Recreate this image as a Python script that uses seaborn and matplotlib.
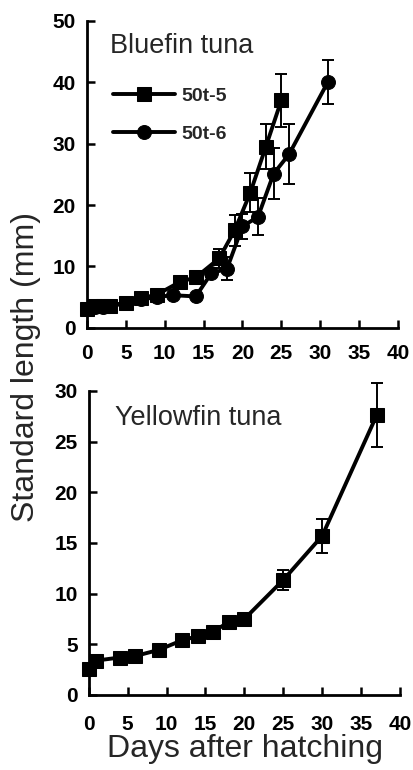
import numpy as np
import pandas as pd
import matplotlib
matplotlib.use("Agg")
import matplotlib.pyplot as plt
import seaborn as sns

# ---- data ----
bf5_days = [0, 1, 2, 3, 5, 7, 9, 12, 14, 17, 19, 21, 23, 25]
bf5_len = [3.0, 3.6, 3.6, 3.6, 4.1, 4.8, 5.4, 7.5, 8.2, 11.3, 15.9, 22.0, 29.5, 37.1]
bf5_sd = [0, 0, 0, 0, 0, 0, 0.3, 0.5, 0.6, 1.6, 2.5, 3.2, 3.7, 4.3]

bf6_days = [0, 1, 2, 3, 5, 7, 9, 11, 14, 16, 18, 20, 22, 24, 26, 31]
bf6_len = [3.1, 3.3, 3.4, 3.5, 4.0, 4.6, 5.0, 5.3, 5.1, 8.9, 9.6, 16.5, 18.1, 25.1, 28.3, 40.1]
bf6_sd = [0, 0, 0, 0, 0, 0, 0, 0, 0, 0.6, 1.9, 2.0, 3.0, 4.2, 4.9, 3.6]

yf_days = [0, 1, 4, 6, 9, 12, 14, 16, 18, 20, 25, 30, 37]
yf_len = [2.6, 3.4, 3.7, 3.85, 4.45, 5.4, 5.8, 6.25, 7.2, 7.5, 11.35, 15.7, 27.6]
yf_sd = [0, 0, 0, 0, 0, 0, 0, 0, 0.3, 0.5, 0.95, 1.65, 3.15]

series_names = ["50t-5", "50t-6"]
x_ticks = [0, 5, 10, 15, 20, 25, 30, 35, 40]
top_yticks = [0, 10, 20, 30, 40, 50]
bot_yticks = [0, 5, 10, 15, 20, 25, 30]

# ---- style ----
sns.set_theme(style="ticks")
plt.rcParams["font.family"] = ["Liberation Sans", "DejaVu Sans"]

W, H = 414, 770
fig = plt.figure(figsize=(W / 100, H / 100), dpi=100)

def fx(px):
    return px / W

def fy(py):
    return (H - py) / H

ax1 = fig.add_axes([fx(87), fy(327.7), (398 - 87) / W, (327.7 - 21) / H])
ax2 = fig.add_axes([fx(88.7), fy(695), (400 - 88.7) / W, (695 - 391) / H])

df_top = pd.concat([
    pd.DataFrame({"day": bf5_days, "length": bf5_len, "group": series_names[0]}),
    pd.DataFrame({"day": bf6_days, "length": bf6_len, "group": series_names[1]}),
])
df_bot = pd.DataFrame({"day": yf_days, "length": yf_len})

LW = 2.8
MS = 10

def draw_err(ax, d, v, e):
    d = np.array(d); v = np.array(v); e = np.array(e)
    m = e > 0
    ax.errorbar(d[m], v[m], yerr=e[m], fmt="none", ecolor="black",
                elinewidth=1.4, capsize=4, capthick=1.4, zorder=1, clip_on=False)

draw_err(ax1, bf5_days, bf5_len, bf5_sd)
draw_err(ax1, bf6_days, bf6_len, bf6_sd)
draw_err(ax2, yf_days, yf_len, yf_sd)

sns.lineplot(data=df_top, x="day", y="length", hue="group", style="group",
             markers={"50t-5": "s", "50t-6": "o"}, dashes=False,
             palette={"50t-5": "black", "50t-6": "black"},
             linewidth=LW, markersize=MS, markeredgecolor="black",
             ax=ax1, legend=True, zorder=3)
sns.lineplot(data=df_bot, x="day", y="length", marker="s", color="black",
             linewidth=LW, markersize=MS - 0.5, markeredgecolor="black",
             ax=ax2, zorder=3)

for ax in (ax1, ax2):
    for ln in ax.get_lines():
        ln.set_clip_on(False)

handles, labels = ax1.get_legend_handles_labels()
leg = ax1.legend(handles, labels, loc="upper left", bbox_to_anchor=(0.0836, 0.785),
                 frameon=False, borderpad=0, borderaxespad=0,
                 handlelength=3.2, handletextpad=0.3, labelspacing=1.05,
                 prop={"family": "Liberation Sans", "weight": "bold", "size": 14})

for ax, yt, pad_x in ((ax1, top_yticks, 11.5), (ax2, bot_yticks, 14.5)):
    ax.set_xlim(0, 40)
    ax.set_ylim(yt[0], yt[-1])
    ax.set_xticks(x_ticks)
    ax.set_yticks(yt)
    ax.set_xlabel("")
    ax.set_ylabel("")
    sns.despine(ax=ax)
    for s in ("left", "bottom"):
        ax.spines[s].set_linewidth(2.0)
        ax.spines[s].set_color("black")
    ax.tick_params(axis="both", direction="in", length=5.5, width=1.8, color="black",
                   labelsize=15, labelcolor="black")
    ax.tick_params(axis="y", pad=8.0)
    ax.tick_params(axis="x", pad=pad_x)
    for lab in ax.get_xticklabels() + ax.get_yticklabels():
        lab.set_fontweight("bold")
    ax.patch.set_alpha(0)

fig.text(fx(110), fy(53.3), "Bluefin tuna", fontsize=19.5, ha="left", va="baseline")
fig.text(fx(115), fy(425), "Yellowfin tuna", fontsize=19.5, ha="left", va="baseline")

fig.text(fx(26), fy(367), "Standard length (mm)", fontsize=23, rotation=90,
         ha="center", va="center")
fig.text(fx(245.5), fy(756.7), "Days after hatching", fontsize=23,
         ha="center", va="baseline")

fig.savefig("out.png", dpi=100, facecolor="white")
